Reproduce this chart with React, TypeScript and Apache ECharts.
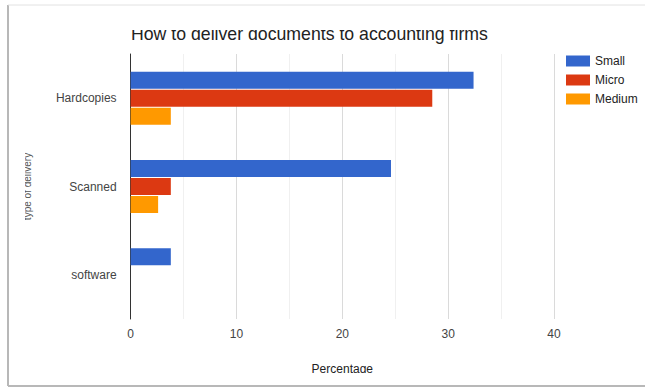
import React, { useEffect, useRef } from "react";
import * as echarts from "echarts";

const categories = ["Hardcopies", "Scanned", "software"];
const seriesNames = ["Small", "Micro", "Medium"];
const smallValues = [32.4, 24.6, 3.8];
const microValues = [28.5, 3.8, 0];
const mediumValues = [3.8, 2.6, 0];
const colors = ["#3366cc", "#dc3912", "#ff9900"];
const xTicks = [0, 10, 20, 30, 40];

export default function App() {
  const ref = useRef<HTMLDivElement>(null);
  useEffect(() => {
    if (!ref.current) return;
    const chart = echarts.init(ref.current, undefined, { renderer: "svg" });
    const font = "'Liberation Sans', Arial, sans-serif";
    const values = [smallValues, microValues, mediumValues];
    chart.setOption({
      animation: false,
      backgroundColor: "#ffffff",
      textStyle: { fontFamily: font },
      grid: { left: 130.6, right: 91, top: 54, bottom: 70, containLabel: false },
      legend: {
        orient: "vertical",
        left: 566,
        top: 55,
        padding: 0,
        itemWidth: 24,
        itemHeight: 11,
        itemGap: 7,
        icon: "rect",
        textStyle: { fontSize: 12, color: "#222", fontFamily: font },
        data: seriesNames,
      },
      xAxis: {
        type: "value",
        min: xTicks[0],
        max: xTicks[xTicks.length - 1],
        interval: 10,
        name: "Percentage",
        nameLocation: "middle",
        nameGap: 44,
        nameTextStyle: { fontSize: 12, color: "#222", fontFamily: font },
        axisLine: { show: false },
        axisTick: { show: false },
        axisLabel: { fontSize: 12, color: "#444", margin: 9, fontFamily: font },
        splitLine: { show: true, lineStyle: { color: "#dadada", width: 1 } },
        minorTick: { show: false, splitNumber: 2 },
        minorSplitLine: { show: true, lineStyle: { color: "#f0f0f0", width: 1 } },
      },
      yAxis: {
        type: "category",
        data: categories,
        inverse: true,
        name: "type of delivery",
        nameLocation: "middle",
        nameRotate: 90,
        nameGap: 98,
        nameTextStyle: { fontSize: 10, color: "#555", fontFamily: font },
        axisLine: { show: true, lineStyle: { color: "#333", width: 1 } },
        axisTick: { show: false },
        axisLabel: { fontSize: 12, color: "#444", margin: 14, fontFamily: font },
      },
      series: seriesNames.map((name, i) => ({
        name,
        type: "bar",
        data: values[i],
        barWidth: 17,
        barGap: "6%",
        itemStyle: { color: colors[i] },
      })),
      graphic: [
        {
          type: "rect",
          left: 9,
          top: 9,
          shape: { width: 16, height: 300 },
          style: { fill: "#ffffff" },
          z: 100,
          silent: true,
        },
        {
          type: "rect",
          left: 120,
          top: 9,
          shape: { width: 400, height: 21 },
          style: { fill: "#ffffff" },
          z: 100,
          silent: true,
        },
        {
          type: "rect",
          left: 250,
          top: 373,
          shape: { width: 200, height: 12 },
          style: { fill: "#ffffff" },
          z: 100,
          silent: true,
        },
        {
          type: "text",
          left: 131,
          top: 25,
          style: {
            text: "How to deliver documents to accounting firms",
            fontSize: 17.7,
            fill: "#222",
            fontFamily: font,
          },
          z: 50,
        },
        {
          type: "line",
          shape: { x1: 8, y1: 5, x2: 8, y2: 386 },
          style: { stroke: "#b8b8b8", lineWidth: 2 },
          z: 110,
        },
        {
          type: "line",
          shape: { x1: 8, y1: 386, x2: 645, y2: 386 },
          style: { stroke: "#b8b8b8", lineWidth: 2 },
          z: 110,
        },
        {
          type: "line",
          shape: { x1: 8, y1: 5, x2: 645, y2: 5 },
          style: { stroke: "#e2e2e2", lineWidth: 1 },
          z: 110,
        },
      ],
    });
    return () => chart.dispose();
  }, []);
  return <div ref={ref} style={{ width: 645, height: 389, position: "absolute", left: 0, top: 0 }} />;
}
